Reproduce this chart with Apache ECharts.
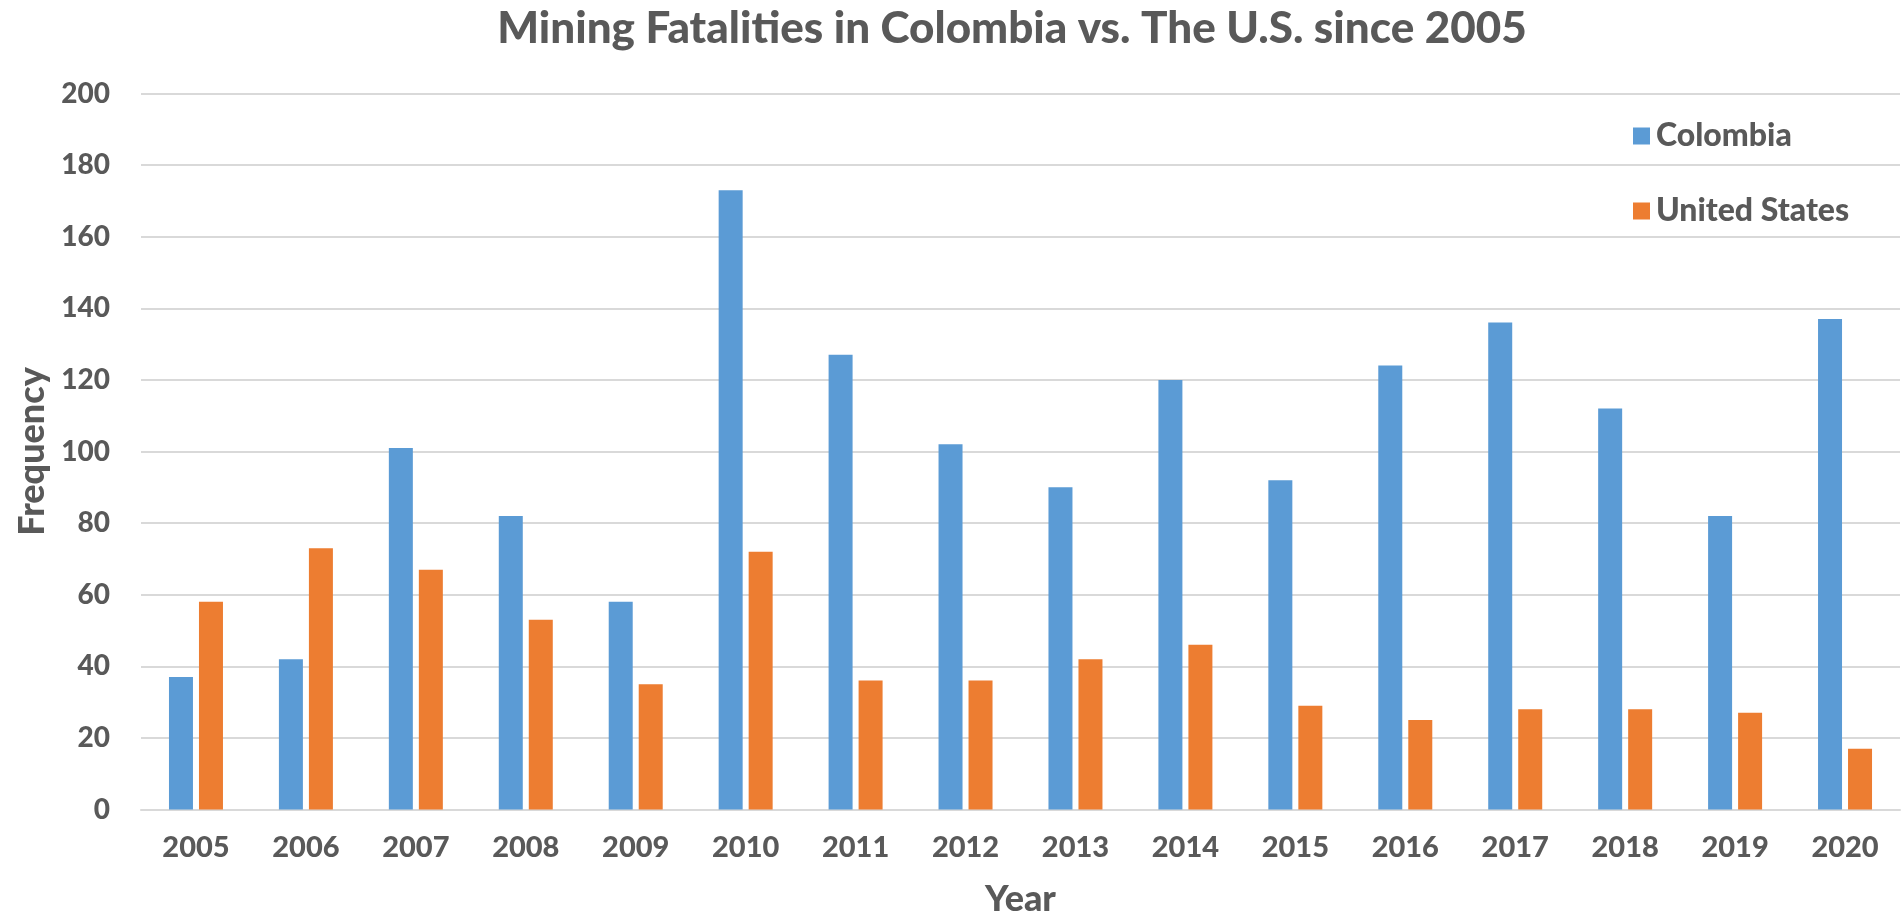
<!DOCTYPE html>
<html>
<head>
<meta charset="utf-8">
<script src="https://cdn.jsdelivr.net/npm/echarts@6/dist/echarts.min.js"></script>
<style>
  html, body { margin: 0; padding: 0; background: #ffffff; }
  #chart { width: 1903px; height: 913px; }
</style>
</head>
<body>
<div id="chart"></div>
<script>
// Mining fatalities per year, Colombia vs. United States
const years = ['2005', '2006', '2007', '2008', '2009', '2010', '2011', '2012',
               '2013', '2014', '2015', '2016', '2017', '2018', '2019', '2020'];
const colombia = [37, 42, 101, 82, 58, 173, 127, 102, 90, 120, 92, 124, 136, 112, 82, 137];
const unitedStates = [58, 73, 67, 53, 35, 72, 36, 36, 42, 46, 29, 25, 28, 28, 27, 17];
const seriesNames = ['Colombia', 'United States'];

const textColor = '#595959';
const gridColor = '#d9d9d9';
const fontFamily = 'Lato';

const chart = echarts.init(document.getElementById('chart'), null, { renderer: 'canvas' });

chart.setOption({
  animation: false,
  backgroundColor: '#ffffff',
  title: {
    text: 'Mining Fatalities in Colombia vs. The U.S. since 2005',
    left: 1007,
    textAlign: 'center',
    top: 2,
    textStyle: {
      fontFamily: fontFamily,
      fontWeight: 900,
      fontSize: 44,
      color: textColor
    }
  },
  legend: {
    orient: 'vertical',
    left: 1628,
    top: 115,
    itemWidth: 17,
    itemHeight: 17,
    itemGap: 43,
    icon: 'rect',
    textStyle: {
      fontFamily: fontFamily,
      fontWeight: 900,
      fontSize: 32,
      color: textColor,
      padding: [0, 0, 0, 1]
    },
    data: seriesNames
  },
  grid: {
    left: 141,
    right: 3,
    top: 93.5,
    bottom: 103.5,
    containLabel: false,
    outerBoundsMode: 'none'
  },
  xAxis: {
    type: 'category',
    data: years,
    name: 'Year',
    nameLocation: 'middle',
    nameGap: 72,
    nameTextStyle: {
      fontFamily: fontFamily,
      fontWeight: 900,
      fontSize: 36,
      color: textColor
    },
    axisLine: { show: true, lineStyle: { color: gridColor, width: 2 } },
    axisTick: { show: false },
    axisLabel: {
      margin: 24,
      fontFamily: fontFamily,
      fontWeight: 900,
      fontSize: 29,
      color: textColor
    }
  },
  yAxis: {
    type: 'value',
    min: 0,
    max: 200,
    interval: 20,
    name: 'Frequency',
    nameLocation: 'middle',
    nameGap: 90,
    nameTextStyle: {
      fontFamily: fontFamily,
      fontWeight: 900,
      fontSize: 36,
      color: textColor
    },
    axisLine: { show: false },
    axisTick: { show: false },
    splitLine: { show: true, lineStyle: { color: gridColor, width: 2 } },
    axisLabel: {
      margin: 31,
      fontFamily: fontFamily,
      fontWeight: 900,
      fontSize: 28,
      color: textColor
    }
  },
  series: [
    {
      name: seriesNames[0],
      type: 'bar',
      data: colombia,
      barWidth: 24,
      barGap: '25%',
      itemStyle: { color: '#5b9bd5' }
    },
    {
      name: seriesNames[1],
      type: 'bar',
      data: unitedStates,
      barWidth: 24,
      barGap: '25%',
      itemStyle: { color: '#ed7d31' }
    }
  ]
});
</script>
</body>
</html>
